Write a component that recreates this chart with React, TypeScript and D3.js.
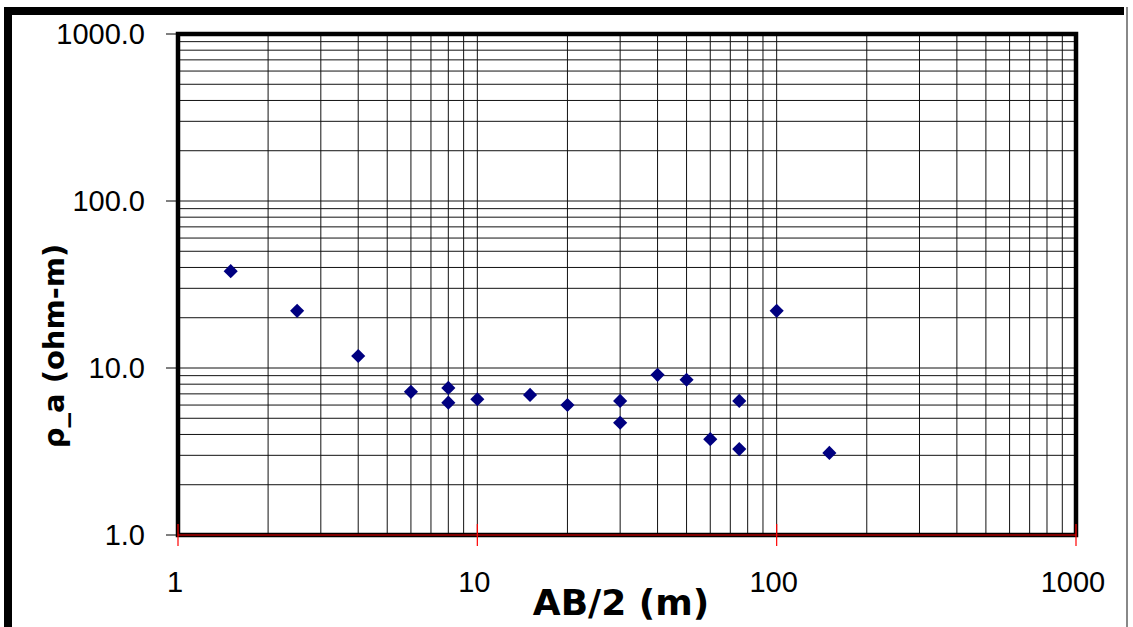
import React, { useEffect, useRef } from 'react';
import * as d3 from 'd3';

// AB/2 spacing (m) and apparent resistivity (ohm-m)
const abHalf = [1.5, 2.5, 4, 6, 8, 8, 10, 15, 20, 30, 30, 40, 50, 60, 75, 75, 100, 150];
const rhoA = [38, 22, 11.8, 7.2, 7.6, 6.2, 6.5, 6.9, 6.0, 6.35, 4.7, 9.1, 8.5, 3.75, 6.35, 3.27, 22, 3.1];

const xTicks = [1, 10, 100, 1000];
const yTicks = [1, 10, 100, 1000];

const App = () => {
  const svgRef = useRef<SVGSVGElement>(null);
  const width = 1133;
  const height = 627;

  useEffect(() => {
    const svg = d3.select(svgRef.current);
    svg.selectAll('*').remove();

    const left = 178, right = 1076, top = 34, bottom = 535;

    const xScale = d3.scaleLog().domain([1, 1000]).range([left, right]);
    const yScale = d3.scaleLog().domain([1, 1000]).range([bottom, top]);

    svg.append('rect').attr('width', width).attr('height', height).attr('fill', 'white');

    // outer frame
    svg.append('line').attr('x1', 8).attr('x2', 8).attr('y1', 7).attr('y2', height)
      .attr('stroke', 'black').attr('stroke-width', 8);
    svg.append('line').attr('x1', 4).attr('x2', 1124).attr('y1', 11).attr('y2', 11)
      .attr('stroke', 'black').attr('stroke-width', 8);
    svg.append('line').attr('x1', 1127).attr('x2', 1127).attr('y1', 7).attr('y2', height)
      .attr('stroke', '#888').attr('stroke-width', 2);

    const g = svg.append('g');

    // grid lines (1..9 per decade)
    const minor: number[] = [];
    [1, 10, 100].forEach(d => {
      for (let k = 1; k <= 9; k++) minor.push(d * k);
    });
    minor.push(1000);

    minor.forEach(v => {
      g.append('line')
        .attr('x1', xScale(v)).attr('x2', xScale(v))
        .attr('y1', top).attr('y2', bottom)
        .attr('stroke', '#111').attr('stroke-width', 1);
      g.append('line')
        .attr('x1', left).attr('x2', right)
        .attr('y1', yScale(v)).attr('y2', yScale(v))
        .attr('stroke', '#111').attr('stroke-width', 1);
    });

    // plot border
    g.append('rect')
      .attr('x', left).attr('y', top)
      .attr('width', right - left).attr('height', bottom - top)
      .attr('fill', 'none').attr('stroke', 'black').attr('stroke-width', 4.5);

    // y axis ticks and labels
    yTicks.forEach(v => {
      g.append('line')
        .attr('x1', left - 12).attr('x2', left)
        .attr('y1', yScale(v)).attr('y2', yScale(v))
        .attr('stroke', 'black').attr('stroke-width', 1);
      g.append('text')
        .attr('x', 145).attr('y', yScale(v) + 10)
        .attr('text-anchor', 'end')
        .attr('font-family', "'Liberation Sans', Arial, sans-serif")
        .attr('font-size', 29)
        .text(d3.format('.1f')(v));
    });

    // x axis (red) with ticks
    g.append('line')
      .attr('x1', left).attr('x2', right)
      .attr('y1', bottom).attr('y2', bottom)
      .attr('stroke', 'red').attr('stroke-width', 1.2);
    xTicks.forEach(v => {
      g.append('line')
        .attr('x1', xScale(v)).attr('x2', xScale(v))
        .attr('y1', bottom - 11).attr('y2', bottom + 11)
        .attr('stroke', 'red').attr('stroke-width', 1.2);
      g.append('text')
        .attr('x', xScale(v) - 3).attr('y', 592)
        .attr('text-anchor', 'middle')
        .attr('font-family', "'Liberation Sans', Arial, sans-serif")
        .attr('font-size', 29)
        .text(String(v));
    });

    // points
    const diamond = d3.symbol().type(d3.symbolSquare).size(100);
    abHalf.forEach((x, i) => {
      g.append('path')
        .attr('d', diamond)
        .attr('transform', `translate(${xScale(x)},${yScale(rhoA[i])}) rotate(45)`)
        .attr('fill', '#000080');
    });

    // axis titles
    g.append('text')
      .attr('x', 621).attr('y', 615)
      .attr('text-anchor', 'middle')
      .attr('font-family', "'DejaVu Sans', Verdana, sans-serif")
      .attr('font-weight', 'bold')
      .attr('font-size', 36)
      .text('AB/2 (m)');

    g.append('text')
      .attr('transform', 'translate(64, 346) rotate(-90)')
      .attr('text-anchor', 'middle')
      .attr('font-family', "'DejaVu Sans', Verdana, sans-serif")
      .attr('font-weight', 'bold')
      .attr('font-size', 29)
      .text('ρ_a (ohm-m)');
  }, []);

  return (
    <svg ref={svgRef} width={width} height={height}
      style={{ position: 'absolute', left: 0, top: 0, display: 'block' }} />
  );
};

export default App;
